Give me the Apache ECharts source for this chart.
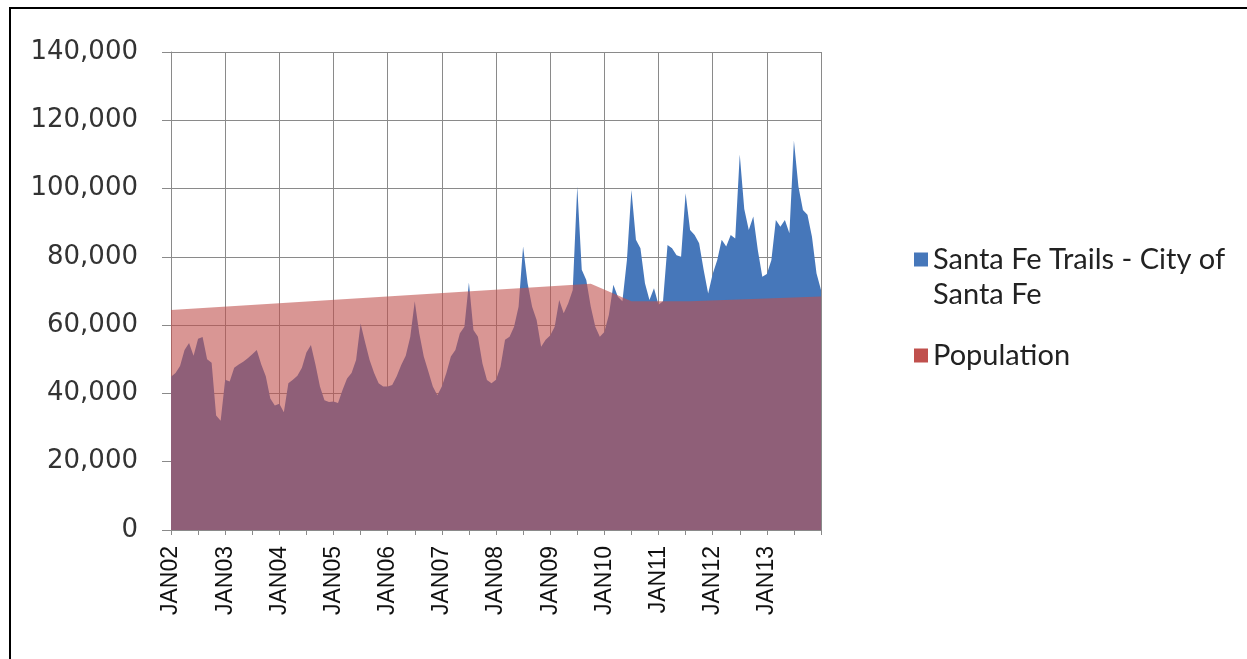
<!DOCTYPE html>
<html lang="en">
<head>
<meta charset="UTF-8">
<title>Santa Fe Trails ridership and population</title>
<style>
  html, body { margin: 0; height: 100%; background: #fff; }
  #main { width: 1247px; height: 659px; }
</style>
</head>
<body>
<div id="main"></div>
<script src="https://cdn.jsdelivr.net/npm/echarts@6.0.0/dist/echarts.min.js"></script>
<script>
// monthly categories JAN02 .. JAN14
var monthNames = ['JAN', 'FEB', 'MAR', 'APR', 'MAY', 'JUN', 'JUL', 'AUG', 'SEP', 'OCT', 'NOV', 'DEC'];
var yearCodes = ['02', '03', '04', '05', '06', '07', '08', '09', '10', '11', '12', '13'];

// Santa Fe Trails - City of Santa Fe, monthly, one array per year
var trails02 = [44900, 46000, 48000, 52700, 54800, 51000, 56000, 56500, 50000, 49000, 33500, 32000];
var trails03 = [44000, 43500, 47500, 48500, 49300, 50300, 51500, 52700, 48500, 45000, 38500, 36500];
var trails04 = [37000, 34500, 43000, 44000, 45200, 47500, 52000, 54200, 48500, 42000, 38000, 37500];
var trails05 = [37600, 37200, 41000, 44400, 46000, 49800, 60500, 55000, 49800, 46000, 43000, 42000];
var trails06 = [42000, 42500, 45000, 48300, 51000, 56500, 67000, 57600, 50800, 46500, 42000, 39500];
var trails07 = [42000, 46000, 50800, 52700, 57600, 59500, 72500, 58600, 56600, 48800, 43900, 43000];
var trails08 = [44000, 47800, 55700, 56600, 59500, 65400, 83000, 72300, 65400, 61500, 53700, 55700];
var trails09 = [57000, 59500, 67400, 63500, 66400, 70300, 100600, 76200, 73200, 65400, 59500, 56600];
var trails10 = [58000, 63000, 71800, 68300, 67000, 79000, 99600, 85000, 82500, 72300, 67400, 70800];
var trails11 = [66000, 67000, 83500, 82500, 80500, 80000, 98600, 87900, 86400, 84000, 76200, 69300];
var trails12 = [75000, 79000, 85000, 83000, 86400, 85400, 110000, 94000, 87900, 91800, 82000, 74200];
var trails13 = [75000, 79000, 90800, 88800, 90800, 86900, 114000, 100600, 93700, 92300, 85900, 75200];
var trails14 = [70300];

// Population: known points only (month index -> value), joined by the line
var popMonth = [0, 93, 102, 115, 144];
var popValue = [64400, 72100, 67000, 67000, 68400];

var yTicks = [0, 20000, 40000, 60000, 80000, 100000, 120000, 140000];

var categories = [];
yearCodes.forEach(function (y) {
    monthNames.forEach(function (m) { categories.push(m + y); });
});
categories.push('JAN14');

var trails = [].concat(trails02, trails03, trails04, trails05, trails06, trails07,
    trails08, trails09, trails10, trails11, trails12, trails13, trails14);

var population = categories.map(function () { return null; });
popMonth.forEach(function (idx, i) { population[idx] = popValue[i]; });

var BLUE_NAME = 'Santa Fe Trails - City of Santa Fe';
var gridColor = '#8a8a8a';

var myChart = echarts.init(document.getElementById('main'));
var option = {
    animation: false,
    backgroundColor: '#fff',
    grid: {
        left: 171, right: 426, top: 52, bottom: 129,
        containLabel: false,
        outerBoundsMode: 'none'
    },
    legend: {
        orient: 'vertical',
        left: 914,
        top: 207,
        padding: 0,
        icon: 'rect',
        itemWidth: 14,
        itemHeight: 14,
        itemGap: 26,
        textStyle: {
            fontFamily: 'Lato',
            fontSize: 29,
            color: '#222',
            lineHeight: 35
        },
        // empty first line keeps the square level with the first text line
        formatter: function (name) {
            return name === BLUE_NAME ? '\nSanta Fe Trails - City of\nSanta Fe' : name;
        },
        data: [
            { name: BLUE_NAME, itemStyle: { color: '#4677BA' } },
            { name: 'Population', itemStyle: { color: '#C0504D' } }
        ]
    },
    xAxis: {
        type: 'category',
        boundaryGap: false,
        data: categories,
        axisLine: { show: true, lineStyle: { color: gridColor, width: 1 } },
        axisTick: {
            show: true,
            length: 5,
            interval: function (i) { return i % 6 === 0; },
            lineStyle: { color: gridColor }
        },
        axisLabel: {
            interval: function (i) { return i % 12 === 0 && i < 144; },
            rotate: 90,
            margin: 16,
            fontFamily: 'Liberation Sans',
            fontSize: 23,
            color: '#111'
        },
        splitLine: {
            show: true,
            interval: function (i) { return i % 12 === 0; },
            lineStyle: { color: gridColor, width: 1 }
        }
    },
    yAxis: {
        type: 'value',
        min: yTicks[0],
        max: yTicks[yTicks.length - 1],
        interval: 20000,
        axisLine: { show: true, lineStyle: { color: gridColor, width: 1 } },
        axisTick: { show: true, length: 9, lineStyle: { color: gridColor } },
        axisLabel: {
            margin: 33,
            fontFamily: 'DejaVu Sans',
            fontSize: 26,
            color: '#333',
            formatter: function (v) { return v.toLocaleString('en-US'); }
        },
        splitLine: { show: true, lineStyle: { color: gridColor, width: 1 } }
    },
    series: [
        {
            name: BLUE_NAME,
            type: 'line',
            data: trails,
            symbol: 'none',
            itemStyle: { color: '#4677BA' },
            lineStyle: { width: 0 },
            areaStyle: { color: '#4677BA', opacity: 1 },
            z: 2
        },
        {
            name: 'Population',
            type: 'line',
            data: population,
            connectNulls: true,
            symbol: 'none',
            itemStyle: { color: '#C0504D' },
            lineStyle: { width: 0 },
            areaStyle: { color: '#C0504D', opacity: 0.6 },
            z: 3
        }
    ],
    // frame of the cropped screenshot: left and top edges only
    graphic: [
        {
            type: 'polyline',
            shape: { points: [[10, 659], [10, 8], [1247, 8]] },
            style: { fill: 'none', stroke: '#000', lineWidth: 2 },
            silent: true
        }
    ]
};
myChart.setOption(option);
</script>
</body>
</html>
